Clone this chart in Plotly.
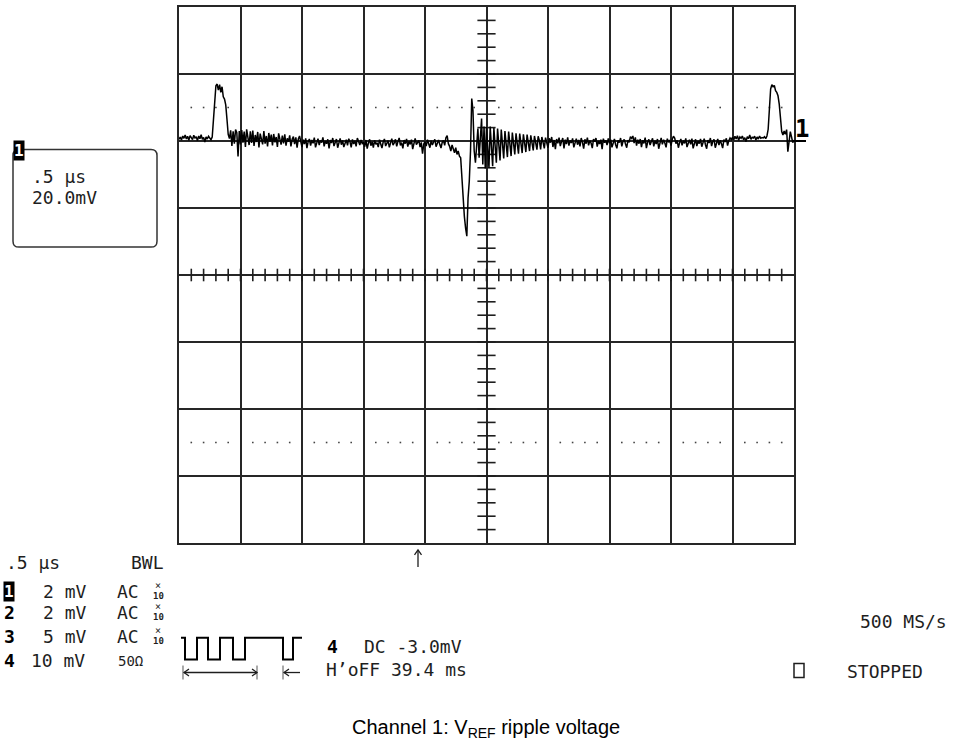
import plotly.graph_objects as go

time_per_div_us = 0.5          # horizontal: .5 µs / div
mv_per_div = 20.0              # channel 1: 20.0 mV / div (2 mV x10 probe)
sample_step_us = 0.01          # displayed record spacing

# channel 1 ripple (mV, relative to channel-1 ground marker), one value per sample
ripple_mv = [
    0.5, 1.2, 0.3, 1.5, 0.8, 1.8, 0.6, 1.4, 0.2, 1.6, 1.0, 0.4, 1.7, 0.9, 1.3, 0.1, 1.5, 0.7, 1.9, 0.5, 1.1, -0.3, 1.2, 0.6, 1.4,
    0.8, 0.4, 1.2, 6.0, 13.0, 16.5, 17.0, 15.2, 16.8, 14.5, 16.2, 13.2, 12.5, 10.8, 6.5, 2.0, 0.7, 3.2, -1.5, 2.9, -0.8, 3.4, 2.5, -4.6, 3.0,
    -1.0, 3.3, -0.5, 2.8, -1.8, 3.5, 0.2, -1.2, 2.9, -0.6, 3.1, -1.5, 1.8, -0.3, 2.7, -1.9, 2.2, 0.4, -1.0, 3.0, -0.8, 1.5, -1.6, 2.4, -0.2,
    1.9, -1.3, 2.1, -0.4, 1.2, -1.8, 2.3, 0.1, -1.1, 1.6, -0.7, 2.0, -1.4, 0.8, -0.2, 1.7, -1.6, 0.5, 1.3, -0.9, 1.1, -2.0, 0.6, 1.5, -0.5,
    -1.8, 0.4, -0.9, 0.8, -2.1, -0.2, 0.6, -1.4, 0.3, -0.7, 1.0, -1.9, -0.1, 0.7, -1.2, 0.2, -0.5, 1.1, -1.6, 0.0, -0.8, 0.5, -2.2, 0.3, -0.6,
    0.9, -1.5, -0.3, 0.6, -2.0, -0.4, 0.8, -1.1, 0.2, -1.8, -0.6, 0.4, -1.3, 0.7, -0.2, -1.9, 0.5, -0.9, 0.1, -1.6, 0.9, -0.5, -1.2, 0.3, -0.8,
    -0.4, -1.7, 0.3, -2.3, -0.6, 0.5, -1.4, -0.2, -2.0, 0.2, -1.0, -0.5, -1.8, 0.4, -0.9, -2.1, -0.3, 0.6, -1.5, -0.7, 0.1, -1.9, -0.4, 0.7, -1.2,
    -0.6, 0.5, -1.6, -0.2, 0.9, -1.3, -0.5, -2.2, 0.3, -0.8, 0.6, -1.7, -0.1, -1.0, 0.4, -2.4, -0.3, 0.8, -1.1, -0.6, 0.2, -1.8, -0.4, -3.8, -0.9,
    -0.2, -1.5, 0.4, -0.8, -2.0, 0.1, -1.2, -0.3, 0.5, -1.7, -0.6, 0.3, -1.0, -2.1, -0.4, 0.2, -1.3, 1.0, 1.6, -0.8, -1.6, -3.0, -1.2, -2.4, -3.5,
    -2.0, -4.0, -3.0, -4.5, -5.0, -12.0, -19.0, -22.5, -26.0, -28.4, -17.0, -12.0, -3.0, 12.7, 9.0, -3.0, -6.5, -1.0, 3.7, -5.0, 2.0, 6.7, -7.0, 4.3, -8.2,
    4.2, -2.0, -8.0, 4.3, -1.5, -7.5, 3.9, -0.8, -6.5, 3.7, -1.0, -5.8, 3.4, -0.5, -5.2, 3.0, -0.7, -4.8, 2.8, -0.3, -4.5, 2.5, -0.6, -4.0, 2.3,
    -0.4, -3.8, 2.2, -0.2, -3.6, 2.0, -0.5, -3.3, 1.9, 0.0, -3.0, 1.7, -0.3, -2.8, 1.5, -0.2, -2.6, 1.4, 0.1, -2.5, 1.2, -0.4, -2.2, 1.0, -0.6,
    -2.0, 0.8, -0.5, 1.2, -1.8, 0.3, -2.4, 0.6, -0.7, 1.0, -1.5, -0.2, 0.9, -2.2, 0.4, -0.9, 1.1, -1.4, 0.2, -0.6, 0.8, -1.9, -0.3, 0.7, -1.1,
    0.3, -1.6, 0.9, -0.4, -2.3, 0.5, -0.8, 1.0, -1.3, 0.1, -0.6, -2.1, 0.6, -0.2, 0.9, -1.7, 0.0, -0.9, 0.4, -2.4, 0.7, -0.5, 0.2, -1.2, 0.8,
    -0.7, 0.4, -1.9, -0.3, 0.6, -1.1, -2.2, 0.2, -0.5, 0.9, -1.6, -0.1, 0.5, -0.9, -2.0, 0.3, -0.4, 1.3, 0.8, 1.5, -0.6, 1.1, -1.4, 0.4, -0.8,
    0.6, -1.8, 0.2, -0.7, 1.0, -2.1, -0.4, 0.5, -1.2, -0.2, 0.8, -1.6, 0.1, -0.9, 0.6, -2.3, -0.3, 0.9, -1.0, 0.4, -0.6, -1.9, 0.7, -0.4, 0.3,
    -1.4, 0.5, 1.4, 0.9, -0.8, 0.2, -2.0, -0.5, 0.6, -1.3, 0.1, -0.7, 0.8, -1.8, -0.2, 0.4, -1.0, 0.7, -2.2, -0.3, 0.5, -1.5, 0.0, -0.8, 0.6,
    -1.7, -0.2, 0.7, -1.1, -2.3, 0.3, -0.6, 0.9, -1.5, -0.1, 0.5, -2.0, -0.4, 0.6, -1.2, 0.2, -0.8, -2.1, 0.4, -0.3, 0.8, -1.4, 0.1, 0.9, 0.4,
    1.1, 0.3, 1.4, 0.6, 1.6, 0.2, 1.2, 0.8, 1.5, 0.4, 1.0, -0.2, 1.3, 0.7, 1.8, 0.5, 1.1, 0.9, 1.4, 0.3, 1.2, 0.6, 1.5, 0.8, 1.0,
    0.9, 1.3, 0.7, 1.5, 3.5, 10.0, 15.5, 16.8, 16.2, 16.6, 15.0, 14.5, 13.5, 11.0, 7.5, 2.8, 1.8, 3.0, 2.0, 3.4, -3.2, 0.5, 2.8, 1.2, -0.5, 0.3,
]
time_us = [round(i * sample_step_us, 2) for i in range(len(ripple_mv))]

x_divs = 10
y_top_mv = 40.0        # ground marker sits 2 divisions below the top
y_bottom_mv = -120.0
center_mv = -40.0
center_us = 2.5
marker_rows_mv = [10.0, -90.0]   # dotted reference rows

box_lines = [".5 µs", "20.0mV"]
timebase_label = ".5 µs"
bw_label = "BWL"
channel_ids = ["1", "2", "3", "4"]
channel_scales = ["2 mV", "2 mV", "5 mV", "10 mV"]
channel_coupling = ["AC", "AC", "AC", "50Ω"]
trigger_text = ["4", "DC -3.0mV"]
holdoff_text = "H’oFF 39.4 ms"
rate_text = "500 MS/s"
state_text = "STOPPED"
caption = "Channel 1: V<sub>REF</sub> ripple voltage"

# ---------------- layout geometry ----------------
W, H = 956, 744
L, R, T, B = 179, 162, 5, 201
PW, PH = W - L - R, H - T - B


def px(x):
    return (x - L) / PW


def py(y):
    return 1 - (y - T) / PH


INK = "#1e1e1e"
MONO = "DejaVu Sans Mono"
FS = 18

fig = go.Figure()

# center-axis minor ticks
h_tick_x = [round(k * time_per_div_us / 5, 3) for k in range(1, 5 * x_divs)]
v_tick_y = [y_bottom_mv + k * mv_per_div / 5 for k in range(1, 40)]
fig.add_trace(go.Scatter(x=h_tick_x, y=[center_mv] * len(h_tick_x), mode="markers",
                         marker=dict(symbol="line-ns", size=9, line=dict(width=1.6, color=INK)),
                         hoverinfo="skip", showlegend=False))
fig.add_trace(go.Scatter(x=[center_us] * len(v_tick_y), y=v_tick_y, mode="markers",
                         marker=dict(symbol="line-ew", size=13, line=dict(width=1.6, color=INK)),
                         hoverinfo="skip", showlegend=False))
# dotted reference rows
dot_x = [round(k * time_per_div_us / 5, 3) for k in range(1, 5 * x_divs) if k % 5 != 0]
for row in marker_rows_mv:
    fig.add_trace(go.Scatter(x=dot_x, y=[row] * len(dot_x), mode="markers",
                             marker=dict(symbol="square", size=1.6, color="#444"),
                             hoverinfo="skip", showlegend=False))

# the waveform
fig.add_trace(go.Scatter(x=time_us, y=ripple_mv, mode="lines",
                         line=dict(color="#000", width=1.5), showlegend=False,
                         hoverinfo="skip"))

fig.update_xaxes(range=[0, x_divs * time_per_div_us], dtick=time_per_div_us, tick0=0,
                 showgrid=True, gridcolor="#262626", gridwidth=2, zeroline=False,
                 showline=True, mirror=True, linecolor="#262626", linewidth=2,
                 showticklabels=False, ticks="", fixedrange=True)
fig.update_yaxes(range=[y_bottom_mv, y_top_mv], dtick=mv_per_div, tick0=0,
                 showgrid=True, gridcolor="#262626", gridwidth=2, zeroline=False,
                 showline=True, mirror=True, linecolor="#262626", linewidth=2,
                 showticklabels=False, ticks="", fixedrange=True)

ann = []
shapes = []


def text(s, x, y, size=FS, anchor="left", color=INK, family=MONO, bold=False, bg=None):
    if bold:
        s = "<b>" + s + "</b>"
    a = dict(text=s, x=px(x), y=py(y), xref="paper", yref="paper", showarrow=False,
             xanchor=anchor, yanchor="middle", font=dict(family=family, size=size, color=color))
    if bg:
        a.update(bgcolor=bg, borderpad=0)
    ann.append(a)


def path(points, width=1.5, color=INK):
    d = ""
    for i, (a, b) in enumerate(points):
        d += ("M" if i == 0 else "L") + f"{px(a):.5f},{py(b):.5f} "
    shapes.append(dict(type="path", path=d, xref="paper", yref="paper",
                       line=dict(color=color, width=width)))


# ground marker "1" on right edge
text("1", 793, 127, size=24, bold=True, color="#000")
shapes.append(dict(type="line", xref="paper", yref="y", x0=1.0, x1=px(806), y0=0, y1=0,
                   line=dict(color="#000", width=2)))

# channel info box (rounded rectangle)
bx0, by0, bx1, by1, r = 13, 148, 157, 246, 6
d = (f"M{px(bx0 + r)},{py(by0)} L{px(bx1 - r)},{py(by0)} Q{px(bx1)},{py(by0)} {px(bx1)},{py(by0 + r)} "
     f"L{px(bx1)},{py(by1 - r)} Q{px(bx1)},{py(by1)} {px(bx1 - r)},{py(by1)} "
     f"L{px(bx0 + r)},{py(by1)} Q{px(bx0)},{py(by1)} {px(bx0)},{py(by1 - r)} "
     f"L{px(bx0)},{py(by0 + r)} Q{px(bx0)},{py(by0)} {px(bx0 + r)},{py(by0)} Z")
shapes.append(dict(type="path", path=d, xref="paper", yref="paper", line=dict(color="#333", width=1.5)))
text(channel_ids[0], 19, 149, size=16, anchor="center", color="#fff", bold=True, bg="#000")
text(box_lines[0], 30, 175)
text(box_lines[1], 30, 196)

# trigger position arrow under grid
path([(418, 567), (418, 550)], width=1.3)
path([(414.5, 555), (418, 550), (421.5, 555)], width=1.3)

# lower status area
text(timebase_label, 4, 563)
text(bw_label, 129, 563)
row_y = [592, 613, 637, 661]
for i, (cid, sc, cp) in enumerate(zip(channel_ids, channel_scales, channel_coupling)):
    y = row_y[i]
    if i == 0:
        text(cid, 9, y, size=16, anchor="center", color="#fff", bold=True, bg="#000")
    else:
        text(cid, 9, y, size=18, anchor="center", bold=True, color="#000")
    if i < 3:
        text(sc, 41, y)
        text(cp, 115, y)
        text("×", 158, y - 6, size=10, anchor="center")
        text("10", 158, y + 4, size=9, anchor="center", bold=True)
    else:
        text(sc, 29, y)
        text(cp, 116, y, size=14)

# trigger waveform icon
sq = [(181, 638), (185, 638), (185, 660), (197, 660), (197, 638), (208, 638), (208, 660),
      (220, 660), (220, 638), (233, 638), (233, 660), (245, 660), (245, 638), (283, 638),
      (283, 660), (293, 660), (293, 638), (302, 638)]
path(sq, width=2, color="#000")
ya = 673
for xv in (183, 257, 283):
    path([(xv, ya - 7), (xv, ya + 7)], width=1, color="#555")
path([(184, ya), (257, ya)], width=1.3)
path([(189, ya - 3.5), (184, ya), (189, ya + 3.5)], width=1.3)
path([(252, ya - 3.5), (257, ya), (252, ya + 3.5)], width=1.3)
path([(284, ya), (300, ya)], width=1.3)
path([(289, ya - 3.5), (284, ya), (289, ya + 3.5)], width=1.3)

text(trigger_text[0], 325, 647, size=18, bold=True, color="#000")
text(trigger_text[1], 362, 647)
text(holdoff_text, 324, 670)
text(rate_text, 858, 622)
shapes.append(dict(type="rect", xref="paper", yref="paper", x0=px(794), x1=px(804),
                   y0=py(678), y1=py(664), line=dict(color=INK, width=1.5)))
text(state_text, 845, 672)

# caption
ann.append(dict(text=caption, x=px(486), y=py(729), xref="paper", yref="paper", showarrow=False,
                xanchor="center", yanchor="middle",
                font=dict(family="Liberation Sans, Arial", size=20, color="#000")))

fig.update_layout(width=W, height=H, margin=dict(l=L, r=R, t=T, b=B),
                  paper_bgcolor="#fff", plot_bgcolor="#fff",
                  annotations=ann, shapes=shapes, showlegend=False)

fig.write_html("out.html", config={"displayModeBar": False})
